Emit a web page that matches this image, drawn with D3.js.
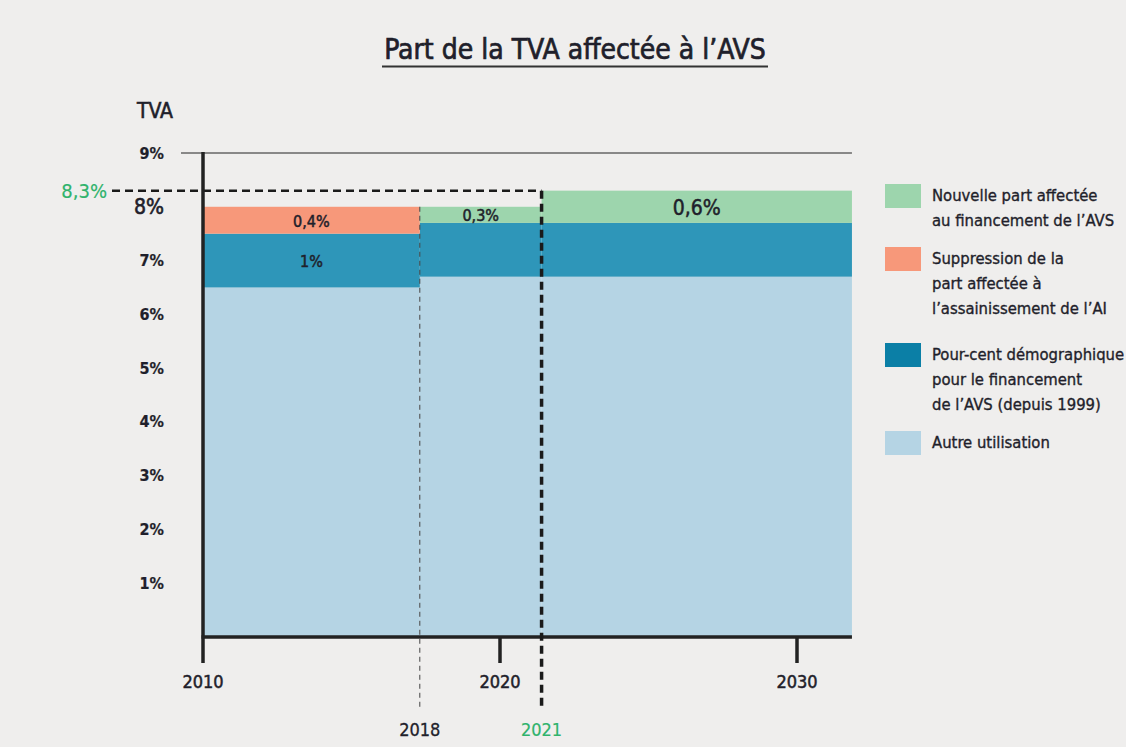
<!DOCTYPE html>
<html>
<head>
<meta charset="utf-8">
<script src="https://cdn.jsdelivr.net/npm/d3@7"></script>
<style>
  body { margin: 0; background: #efeeed; }
  svg { display: block; }
  text { font-family: "DejaVu Sans Condensed", "Liberation Sans Narrow", "Roboto", sans-serif; fill: #1f1f2b; stroke: #1f1f2b; stroke-width: 0.35px; }
  text.green { fill: #2fb36c; stroke: #2fb36c; }
  .tick-y { font-size: 16px; font-weight: bold; }
  .seg-label { font-size: 16px; }
  .legend text { font-size: 16.5px; }
</style>
</head>
<body>
<svg id="chart"></svg>
<script>
const width = 1126, height = 747;

// periods, in axis years (boundaries as drawn)
const periodStart = [2010, 2017.3, 2021.4];
const periodEnd = [2017.3, 2021.4, 2031.85];
const markerLabels = ['2018', '2021'];
const xTicks = [2010, 2020, 2030];
const yTicks = [1, 2, 3, 4, 5, 6, 7, 8, 9];

// shares of TVA (%)
const autre = [6.5, 6.7, 6.7];
const demo = [1, 1, 1];
const ai = [0.5, 0, 0];
const nouvelle = [0, 0.3, 0.6];

const keys = ['autre', 'demo', 'ai', 'nouvelle'];
const colors = {autre: '#b5d4e4', demo: '#2e96b9', ai: '#f7987a', nouvelle: '#9dd5ad'};
const legendColors = {autre: '#b5d4e4', demo: '#0b7fa6', ai: '#f7987a', nouvelle: '#9dd5ad'};
const legendOrder = ['nouvelle', 'ai', 'demo', 'autre'];
const legendText = {
    nouvelle: ['Nouvelle part affectée', 'au financement de l’AVS'],
    ai: ['Suppression de la', 'part affectée à', 'l’assainissement de l’AI'],
    demo: ['Pour-cent démographique', 'pour le financement', 'de l’AVS (depuis 1999)'],
    autre: ['Autre utilisation']
};
const segLabels = [
    {period: 0, key: 'ai', text: '0,4%', size: 16},
    {period: 0, key: 'demo', text: '1%', size: 16},
    {period: 1, key: 'nouvelle', text: '0,3%', size: 16},
    {period: 2, key: 'nouvelle', text: '0,6%', size: 21}
];
const total2021 = 8.3;

const rows = periodStart.map((s, i) => ({
    start: s, end: periodEnd[i],
    autre: autre[i], demo: demo[i], ai: ai[i], nouvelle: nouvelle[i]
}));

const svg = d3.select('#chart').attr('width', width).attr('height', height);

const x = d3.scaleLinear().domain([2010, 2030]).range([203, 797]);
const y = d3.scaleLinear().domain([0, 9]).range([637, 153]);

// title
svg.append('text')
    .attr('x', 575).attr('y', 59)
    .attr('text-anchor', 'middle')
    .style('font-size', '28px')
    .style('stroke-width', '0.7px')
    .text('Part de la TVA affectée à l’AVS');
svg.append('line')
    .attr('x1', 382).attr('x2', 768)
    .attr('y1', 66.5).attr('y2', 66.5)
    .attr('stroke', '#333').attr('stroke-width', 2);

svg.append('text')
    .attr('x', 155).attr('y', 118)
    .attr('text-anchor', 'middle')
    .style('font-size', '21px')
    .style('stroke-width', '0.6px')
    .text('TVA');

// stacked bars
const stack = d3.stack().keys(keys)(rows);
const layers = svg.append('g').selectAll('g')
    .data(stack)
    .join('g')
    .attr('fill', d => colors[d.key]);
layers.selectAll('rect')
    .data(d => d.filter(v => v[1] - v[0] > 0))
    .join('rect')
    .attr('x', d => x(d.data.start))
    .attr('width', d => x(d.data.end) - x(d.data.start))
    .attr('y', d => y(d[1]))
    .attr('height', d => y(d[0]) - y(d[1]));

// segment labels
const stackByKey = {};
stack.forEach(s => stackByKey[s.key] = s);
svg.append('g').selectAll('text')
    .data(segLabels)
    .join('text')
    .attr('class', 'seg-label')
    .attr('text-anchor', 'middle')
    .attr('dominant-baseline', 'central')
    .style('font-size', d => d.size + 'px')
    .style('stroke-width', '0.5px')
    .attr('x', d => {
        const r = rows[d.period];
        return (x(r.start) + x(r.end)) / 2;
    })
    .attr('y', d => {
        const s = stackByKey[d.key][d.period];
        return y((s[0] + s[1]) / 2) + 1;
    })
    .text(d => d.text);

// 9% gridline
svg.append('line')
    .attr('x1', 181).attr('x2', x(periodEnd[2]))
    .attr('y1', y(9)).attr('y2', y(9))
    .attr('stroke', '#222').attr('stroke-width', 1);

// y tick labels
svg.append('g').selectAll('text')
    .data(yTicks)
    .join('text')
    .attr('class', 'tick-y')
    .attr('x', 164)
    .attr('y', d => y(d))
    .attr('text-anchor', 'end')
    .attr('dominant-baseline', 'central')
    .style('font-size', d => d === 8 ? '21px' : '16px')
    .style('font-weight', d => d === 8 ? 'normal' : 'bold')
    .style('stroke-width', d => d === 8 ? '0.6px' : '0.2px')
    .text(d => d + '%');

// 8,3% reference
svg.append('text')
    .attr('class', 'green')
    .attr('x', 107).attr('y', y(total2021))
    .attr('text-anchor', 'end')
    .attr('dominant-baseline', 'central')
    .style('font-size', '20px')
    .style('stroke-width', '0.2px')
    .text('8,3%');
svg.append('line')
    .attr('x1', 112).attr('x2', x(periodStart[2]))
    .attr('y1', y(total2021)).attr('y2', y(total2021))
    .attr('stroke', '#1a1a1a').attr('stroke-width', 2.5)
    .attr('stroke-dasharray', '8,5');

// axes
svg.append('line')
    .attr('x1', x(2010)).attr('x2', x(2010))
    .attr('y1', y(9) - 1).attr('y2', y(0))
    .attr('stroke', '#222').attr('stroke-width', 3.5);
svg.append('line')
    .attr('x1', x(2010) - 1.5).attr('x2', x(periodEnd[2]))
    .attr('y1', y(0)).attr('y2', y(0))
    .attr('stroke', '#222').attr('stroke-width', 3.5);
svg.append('g').selectAll('line')
    .data(xTicks)
    .join('line')
    .attr('x1', d => x(d)).attr('x2', d => x(d))
    .attr('y1', y(0)).attr('y2', y(0) + 26)
    .attr('stroke', '#222').attr('stroke-width', 3.5);
svg.append('g').selectAll('text')
    .data(xTicks)
    .join('text')
    .attr('x', d => x(d)).attr('y', 681)
    .attr('text-anchor', 'middle')
    .attr('dominant-baseline', 'central')
    .style('font-size', '18px')
    .style('stroke-width', '0.5px')
    .text(d => d);

// 2018 marker (thin dashed)
svg.append('line')
    .attr('x1', x(periodStart[1])).attr('x2', x(periodStart[1]))
    .attr('y1', y(ai[0] + demo[0] + autre[0])).attr('y2', 710)
    .attr('stroke', '#444').attr('stroke-width', 1)
    .attr('stroke-dasharray', '5,4');
svg.append('text')
    .attr('x', x(periodStart[1])).attr('y', 729)
    .attr('text-anchor', 'middle')
    .attr('dominant-baseline', 'central')
    .style('font-size', '18px')
    .style('stroke-width', '0.3px')
    .text(markerLabels[0]);

// 2021 marker (thick dashed)
svg.append('line')
    .attr('x1', x(periodStart[2])).attr('x2', x(periodStart[2]))
    .attr('y1', y(total2021)).attr('y2', 710)
    .attr('stroke', '#1a1a1a').attr('stroke-width', 3.5)
    .attr('stroke-dasharray', '8,5');
svg.append('text')
    .attr('class', 'green')
    .attr('x', x(periodStart[2])).attr('y', 729)
    .attr('text-anchor', 'middle')
    .attr('dominant-baseline', 'central')
    .style('font-size', '18px')
    .style('stroke-width', '0.2px')
    .text(markerLabels[1]);

// legend
const legendY = [184, 247, 343, 431];
const legend = svg.append('g').attr('class', 'legend')
    .selectAll('g')
    .data(legendOrder)
    .join('g')
    .attr('transform', (d, i) => `translate(885,${legendY[i]})`);
legend.append('rect')
    .attr('width', 36).attr('height', 24)
    .attr('fill', d => legendColors[d]);
legend.each(function(d) {
    const t = d3.select(this).append('text').attr('x', 47).attr('y', 11);
    legendText[d].forEach((line, j) => {
        t.append('tspan')
            .attr('x', 47)
            .attr('dy', j === 0 ? 0 : 25)
            .attr('dominant-baseline', 'central')
            .text(line);
    });
});
</script>
</body>
</html>
